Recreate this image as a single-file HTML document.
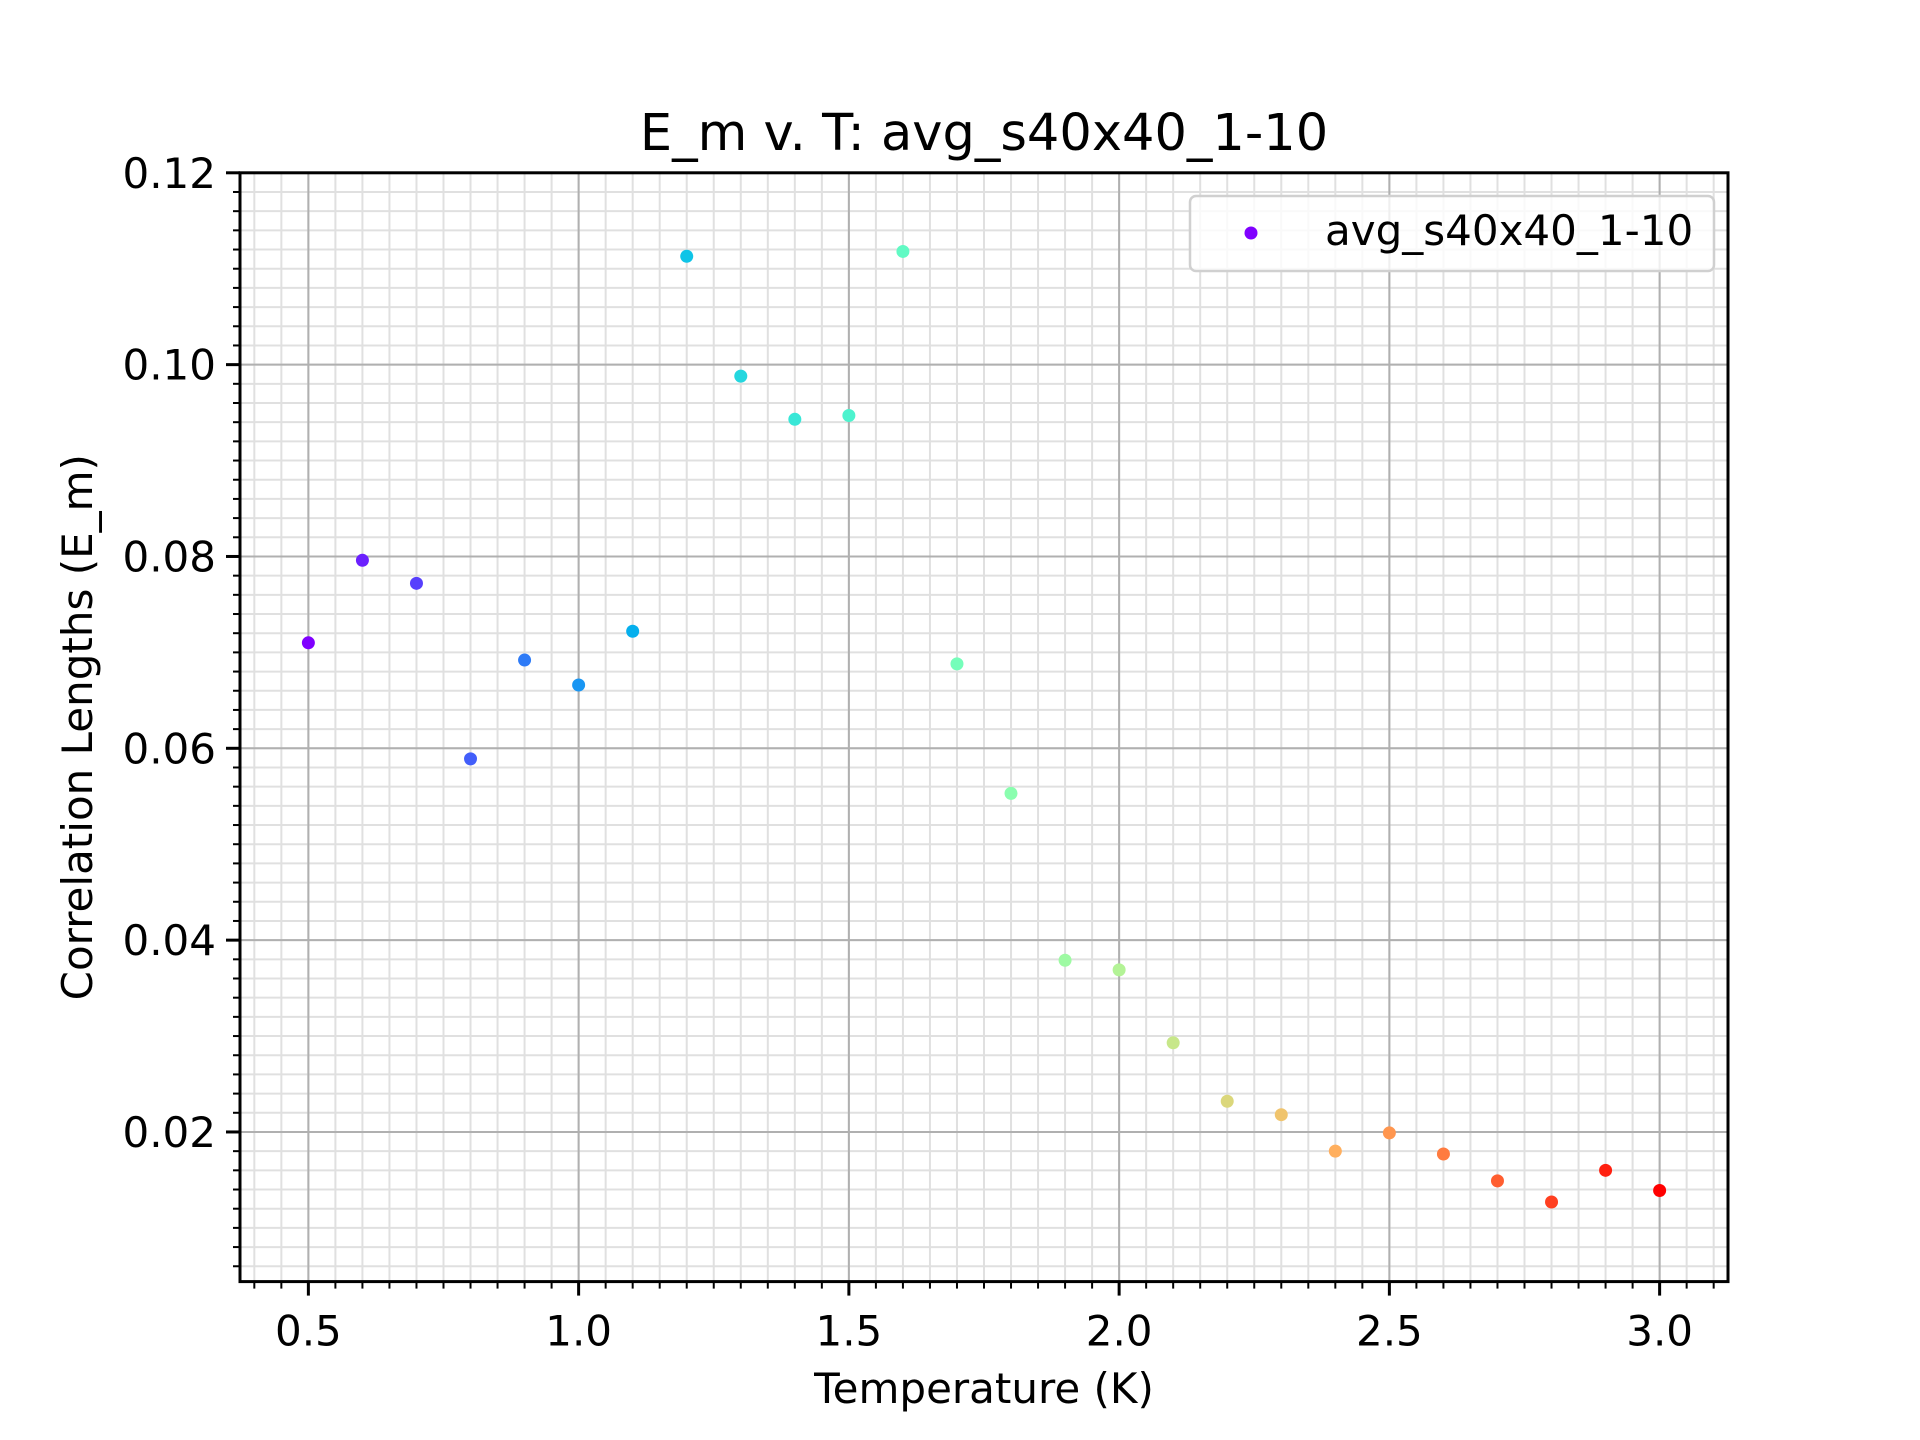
<!DOCTYPE html>
<html><head><meta charset="utf-8"><style>body{margin:0;background:#fff}svg{display:block}text{font-family:"DejaVu Sans","Liberation Sans",sans-serif;fill:#000}</style></head>
<body>
<svg id="chart" width="1920" height="1440" xmlns="http://www.w3.org/2000/svg">
<rect width="1920" height="1440" fill="#fff"/>
<g id="grid"></g><g id="pts"></g><g id="ax"></g>
</svg>
<script>
const temps=[0.5,0.6,0.7,0.8,0.9,1.0,1.1,1.2,1.3,1.4,1.5,1.6,1.7,1.8,1.9,2.0,2.1,2.2,2.3,2.4,2.5,2.6,2.7,2.8,2.9,3.0];
const values=[0.0710,0.0796,0.0772,0.0589,0.0692,0.0666,0.0722,0.1113,0.0988,0.0943,0.0947,0.1118,0.0688,0.0553,0.0379,0.0369,0.0293,0.0232,0.0218,0.0180,0.0199,0.0177,0.0149,0.0127,0.0160,0.0139];
const xTicks=[0.5,1.0,1.5,2.0,2.5,3.0];
const xTickLabels=["0.5","1.0","1.5","2.0","2.5","3.0"];
const yTicks=[0.02,0.04,0.06,0.08,0.10,0.12];
const yTickLabels=["0.02","0.04","0.06","0.08","0.10","0.12"];
const L=240,R=1728,T=172.8,B=1281.6,X0=0.3735,X1=3.1265,Y0=0.0044,Y1=0.12;
const sx=v=>L+(v-X0)/(X1-X0)*(R-L), sy=v=>B-(v-Y0)/(Y1-Y0)*(B-T);
const NS="http://www.w3.org/2000/svg";
function mk(tag,at,parent){const e=document.createElementNS(NS,tag);for(const k in at)e.setAttribute(k,at[k]);document.getElementById(parent).appendChild(e);return e;}
function rb(x){const c=v=>Math.round(255*Math.max(0,Math.min(1,v)));return `rgb(${c(Math.abs(2*x-0.5))},${c(Math.sin(Math.PI*x))},${c(Math.cos(Math.PI*x/2))})`;}
for(let i=Math.ceil(X0/0.05);i*0.05<=X1;i++){const x=sx(i*0.05);let e=mk('line',{x1:x,x2:x,y1:T,y2:B,stroke:'#e0e0e0','stroke-width':2},'grid');

let t=mk('line',{x1:x,x2:x,y1:B,y2:B+7,stroke:'#000','stroke-width':2},'ax');
}
for(let i=Math.ceil(Y0/0.002);i*0.002<=Y1+1e-9;i++){const y=sy(i*0.002);let e=mk('line',{x1:L,x2:R,y1:y,y2:y,stroke:'#e0e0e0','stroke-width':2},'grid');

let t=mk('line',{x1:L-7,x2:L,y1:y,y2:y,stroke:'#000','stroke-width':2},'ax');
}
xTicks.forEach((v,i)=>{const x=sx(v);let g=mk('line',{x1:x,x2:x,y1:T,y2:B,stroke:'#b0b0b0','stroke-width':2},'grid');

let t=mk('line',{x1:x,x2:x,y1:B,y2:B+14,stroke:'#000','stroke-width':3},'ax');

let tx=mk('text',{x:x,y:B+64,'font-size':42,'text-anchor':'middle'},'ax');tx.textContent=xTickLabels[i];
});
yTicks.forEach((v,i)=>{const y=sy(v);let g=mk('line',{x1:L,x2:R,y1:y,y2:y,stroke:'#b0b0b0','stroke-width':2},'grid');

let t=mk('line',{x1:L-14,x2:L,y1:y,y2:y,stroke:'#000','stroke-width':3},'ax');

let tx=mk('text',{x:L-24,y:y+15,'font-size':42,'text-anchor':'end'},'ax');tx.textContent=yTickLabels[i];
});
temps.forEach((t,i)=>{let c=mk('circle',{cx:sx(t),cy:sy(values[i]),r:6.5,fill:rb(i/(temps.length-1))},'pts');
});
let fr=mk('rect',{x:L,y:T,width:R-L,height:B-T,fill:'none',stroke:'#000','stroke-width':3},'ax');

let lg=mk('rect',{x:1190,y:196,width:524,height:75,rx:6,fill:'rgba(255,255,255,0.8)',stroke:'#d0d0d0','stroke-width':2.5},'ax');

let lm=mk('circle',{cx:1251,cy:233,r:6.5,fill:rb(0)},'ax');

let lt=mk('text',{x:1325,y:245,'font-size':42},'ax');lt.textContent='avg_s40x40_1-10';

let ti=mk('text',{x:(L+R)/2,y:150,'font-size':51,'text-anchor':'middle'},'ax');ti.textContent='E_m v. T: avg_s40x40_1-10';

let xl=mk('text',{x:(L+R)/2,y:1403,'font-size':42,'text-anchor':'middle'},'ax');xl.textContent='Temperature (K)';

let yl=mk('text',{x:0,y:0,'font-size':42,'text-anchor':'middle',transform:`translate(92,${(T+B)/2}) rotate(-90)`},'ax');yl.textContent='Correlation Lengths (E_m)';

</script>
</body></html>
